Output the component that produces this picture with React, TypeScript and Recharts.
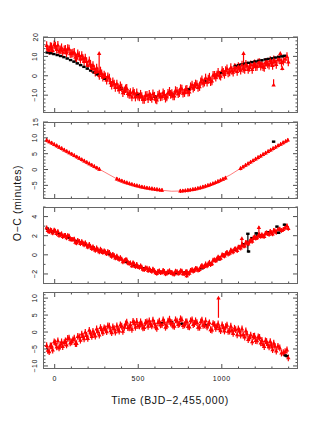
import { ScatterChart, Scatter, XAxis, YAxis, ErrorBar } from "recharts";

const W = 327;
const H = 423;
const PLOT_L = 43;
const PLOT_R = 298;
const MT = 4;
const RED = "#ff0000";
const FONT = '"Liberation Sans", Arial, Helvetica, sans-serif';

// transit epochs (BJD-2,455,000), two interleaved sets
const epochsA = [
  -48, -33, -19, -3, 12, 26, 41, 57, 71, 86, 102, 117,
  131, 147, 162, 176, 191, 207, 222, 236, 251, 267, 281, 296,
  311, 327, 341, 356, 372, 386, 401, 417, 431, 446, 462, 476,
  491, 507, 521, 536, 552, 566, 581, 597, 611, 626, 642, 656,
  671, 687, 701, 716, 732, 746, 761, 777, 791, 806, 822, 836,
  851, 867, 881, 896, 912, 926, 941, 957, 971, 986, 1002, 1016,
  1031, 1047, 1061, 1076, 1092, 1106, 1121, 1137, 1151, 1166, 1182, 1196,
  1211, 1226, 1240, 1254, 1268, 1283, 1297, 1311, 1326, 1347, 1368, 1390,
];
const epochsB = [
  -41, -26, -12, 4, 19, 33, 48, 64, 78, 93, 109, 124,
  138, 154, 169, 183, 198, 214, 229, 243, 258, 274, 288, 303,
  318, 334, 348, 363, 379, 393, 408, 424, 438, 453, 469, 483,
  498, 514, 528, 543, 559, 573, 588, 604, 618, 633, 649, 663,
  678, 694, 708, 723, 739, 753, 768, 784, 798, 813, 829, 843,
  858, 874, 888, 903, 919, 933, 948, 964, 978, 993, 1009, 1023,
  1038, 1054, 1068, 1083, 1099, 1113, 1128, 1144, 1158, 1173, 1189, 1203,
  1218, 1233, 1247, 1261, 1275, 1290, 1304, 1318, 1336, 1357, 1379, 1398,
];

// panel 1
const ocRed1A = [
  15.6, 13.0, 14.9, 16.0, 13.5, 12.6, 14.5, 13.4, 11.7, 13.8, 11.5, 12.1,
  9.0, 10.5, 10.5, 7.4, 7.3, 7.8, 3.8, 3.5, 4.0, 0.1, 1.1, 0.4,
  -2.3, -1.2, -4.9, -4.2, -4.2, -7.1, -6.3, -7.7, -6.5, -9.6, -10.9, -9.0,
  -8.8, -10.9, -10.7, -12.2, -10.1, -9.6, -11.7, -10.5, -12.5, -9.4, -10.7, -9.6,
  -11.0, -8.0, -9.1, -10.4, -8.0, -8.8, -6.8, -8.7, -7.0, -8.4, -4.8, -5.6,
  -4.5, -5.6, -2.1, -3.3, -3.3, -0.7, -2.7, 0.3, 0.4, 0.3, 2.7, 0.7,
  3.6, 1.9, 2.7, 4.2, 2.2, 4.2, 5.6, 3.2, 5.0, 4.3, 3.3, 6.2,
  4.8, 6.8, 6.1, 4.3, 7.0, 5.5, 6.8, 8.2, 5.8, 8.2, 7.5, 9.9,
];
const ocRed1B = [
  13.7, 15.1, 13.0, 15.4, 15.7, 13.4, 12.1, 13.7, 14.0, 11.4, 11.8, 9.5,
  11.3, 8.5, 8.9, 9.2, 5.3, 6.0, 5.3, 1.8, 2.1, 2.5, -0.8, -0.5,
  -0.5, -3.6, -3.1, -6.1, -6.0, -5.1, -8.8, -6.7, -9.1, -8.6, -8.1, -11.0,
  -10.6, -9.5, -12.2, -10.2, -11.9, -10.8, -9.3, -12.1, -10.1, -10.9, -8.8, -11.6,
  -9.0, -9.6, -10.4, -7.6, -9.3, -6.6, -9.0, -7.2, -8.5, -5.6, -6.4, -4.2,
  -6.1, -3.1, -3.8, -1.1, -1.7, -3.1, 0.3, -0.8, 1.8, -0.2, 1.8, 2.7,
  1.5, 4.2, 1.8, 4.0, 4.8, 2.8, 3.8, 6.0, 3.2, 5.7, 5.7, 4.7,
  6.7, 4.9, 4.7, 6.9, 6.1, 7.9, 5.3, 7.3, 8.4, 6.8, 8.6, 7.1,
];
const blackT1 = [
  -45, -25, -5, 15, 35, 55, 75, 95, 115, 135, 155, 175, 195, 215, 235, 255,
  300, 400, 500, 600, 700, 800, 900, 1000,
  1080, 1100, 1120, 1140, 1160, 1180, 1200, 1220, 1240, 1260, 1280, 1300, 1320, 1340, 1360, 1375,
];
const ocBlack1 = [
  12.0, 11.6, 11.2, 10.7, 10.2, 9.6, 8.9, 8.1, 7.3, 6.4, 5.5, 4.6, 3.7, 2.7, 1.7, 0.7,
  -1.5, -6.5, -9.8, -10.8, -9.5, -7.0, -3.0, 1.5,
  5.0, 5.5, 5.9, 6.3, 6.7, 7.0, 7.4, 7.7, 8.0, 8.4, 8.7, 9.0, 9.4, 9.7, 10.0, 10.3,
];
const outT1 = [266, 1130, 1350, 1310, 1362];
const outV1 = [11.5, 11.5, 11.5, -4.8, 3.8];
const outE1 = [[12.5, 0], [7.5, 0], [2, 0.3], [0.3, 3], [1, 1]];

// panel 2
const t2 = [
  -48, -33, -18, -3, 12, 27, 42, 57, 72, 87, 102, 117, 132, 147, 162, 177, 192, 207, 222, 237, 252, 267,
  372, 387, 402, 417, 432, 447, 462, 477, 492, 507, 522, 537, 552, 567, 582, 597, 612, 627, 642,
  752, 767, 782, 797, 812, 827, 842, 857, 872, 887, 902, 917, 932, 947, 962, 977, 992, 1007, 1022,
  1112, 1127, 1142, 1157, 1172, 1187, 1202, 1217, 1232, 1247, 1262, 1277, 1292, 1307, 1322, 1337, 1352, 1367, 1382, 1395,
];
const ocRed2 = [
  9.24, 8.8, 8.37, 7.93, 7.5, 7.06, 6.63, 6.19, 5.76, 5.32, 4.89, 4.45, 4.02, 3.58, 3.15, 2.71, 2.28, 1.84, 1.41, 0.97, 0.54, 0.1,
  -2.95, -3.28, -3.6, -3.9, -4.18, -4.43, -4.67, -4.9, -5.1, -5.3, -5.48, -5.64, -5.79, -5.93, -6.06, -6.18, -6.3, -6.41, -6.51,
  -6.78, -6.72, -6.64, -6.54, -6.42, -6.28, -6.12, -5.94, -5.74, -5.52, -5.28, -5.02, -4.74, -4.44, -4.12, -3.78, -3.42, -3.04, -2.64,
  0.36, 0.86, 1.36, 1.86, 2.35, 2.84, 3.32, 3.8, 4.28, 4.76, 5.23, 5.7, 6.17, 6.63, 7.09, 7.55, 8.0, 8.45, 8.9, 9.3,
];
const modelT2 = [-50, 100, 200, 270, 300, 370, 450, 550, 650, 700, 750, 850, 950, 1050, 1110, 1200, 1300, 1400];
const model2 = [9.3, 4.95, 2.05, 0.02, -0.85, -2.9, -4.48, -5.77, -6.58, -6.85, -6.78, -6.03, -4.38, -1.7, 0.3, 3.26, 6.43, 9.4];
const blackT2 = [1310];
const ocBlack2 = [8.8];

// panel 3
const ocRed3A = [
  2.82, 2.42, 2.54, 2.58, 2.22, 2.04, 2.2, 2.02, 1.78, 1.96, 1.61, 1.63,
  1.25, 1.41, 1.39, 1.05, 1.05, 1.08, 0.66, 0.64, 0.72, 0.32, 0.44, 0.4,
  0.12, 0.26, -0.16, -0.08, -0.13, -0.47, -0.44, -0.62, -0.52, -0.9, -1.13, -0.97,
  -1.01, -1.31, -1.3, -1.54, -1.4, -1.44, -1.73, -1.66, -1.95, -1.68, -1.84, -1.74,
  -1.92, -1.67, -1.83, -2.01, -1.77, -1.89, -1.71, -1.95, -1.76, -1.93, -1.54, -1.6,
  -1.44, -1.54, -1.12, -1.22, -1.15, -0.78, -0.93, -0.52, -0.43, -0.36, -0.01, -0.12,
  0.26, 0.17, 0.38, 0.6, 0.44, 0.79, 1.08, 0.93, 1.26, 1.36, 1.42, 1.87,
  1.79, 2.09, 2.09, 1.92, 2.3, 2.15, 2.32, 2.56, 2.36, 2.68, 2.66, 3.03,
];
const ocRed3B = [
  2.55, 2.61, 2.29, 2.47, 2.43, 2.11, 1.91, 2.03, 2.01, 1.64, 1.62, 1.32,
  1.5, 1.18, 1.22, 1.26, 0.82, 0.89, 0.83, 0.47, 0.53, 0.59, 0.25, 0.31,
  0.33, -0.01, 0.05, -0.32, -0.34, -0.29, -0.73, -0.53, -0.83, -0.84, -0.84, -1.22,
  -1.24, -1.16, -1.51, -1.37, -1.65, -1.61, -1.5, -1.87, -1.72, -1.86, -1.64, -1.98,
  -1.75, -1.87, -1.99, -1.71, -1.93, -1.67, -1.97, -1.79, -1.94, -1.63, -1.71, -1.43,
  -1.61, -1.25, -1.29, -0.95, -0.94, -1.01, -0.56, -0.61, -0.24, -0.37, -0.06, 0.13,
  0.08, 0.49, 0.31, 0.61, 0.8, 0.71, 0.94, 1.31, 1.14, 1.6, 1.76, 1.74,
  2.04, 1.92, 1.96, 2.25, 2.21, 2.44, 2.19, 2.49, 2.67, 2.55, 2.84, 2.76,
];
const blackT3 = [
  -45, -10, 30, 80, 130, 180, 230, 280, 330, 380, 430, 480, 530, 580, 630,
  680, 730, 780, 830, 880, 930, 980, 1030, 1080, 1130, 1180, 1230, 1280, 1330, 1375,
];
const ocBlack3 = [
  2.75, 2.45, 2.15, 1.8, 1.45, 1.1, 0.75, 0.4, 0.05, -0.35, -0.75, -1.1, -1.4, -1.65, -1.8,
  -1.85, -1.9, -1.85, -1.65, -1.4, -0.95, -0.45, 0.15, 0.55, 1.1, 1.75, 2.05, 2.35, 2.95, 3.15,
];
const outBlackT3 = [1156, 1160, 1206, 1340];
const outBlackV3 = [2.2, 0.35, 2.25, 2.3];
const outBlackE3 = [[1.85, 0], [0.1, 0.1], [0.3, 0.1], [0.1, 0.1]];
const outT3 = [1120, 1222, 790];
const outV3 = [1.7, 2.85, -2.2];
const outE3 = [[0.9, 0], [0.9, 0.15], [0.2, 0.2]];

// panel 4
const ocRed4A = [
  -4.0, -5.8, -4.1, -2.9, -4.4, -4.7, -2.9, -3.1, -3.8, -1.8, -2.9, -1.8,
  -3.4, -1.4, -0.6, -2.0, -1.0, 0.5, -1.3, -0.6, 0.9, -0.9, 0.7, 1.2,
  0.1, 1.7, -0.2, 1.0, 1.8, 0.3, 1.7, 1.4, 2.9, 1.2, 0.8, 2.6,
  3.1, 1.8, 2.3, 1.3, 3.0, 3.3, 1.8, 2.6, 1.1, 3.2, 2.2, 2.9,
  1.8, 3.8, 2.8, 1.7, 3.2, 2.4, 3.6, 2.1, 3.0, 1.5, 3.6, 2.5,
  2.8, 1.4, 3.5, 2.1, 1.5, 2.7, 0.6, 2.2, 1.6, 1.0, 2.1, 0.3,
  2.0, 0.3, 0.5, 1.1, -0.8, 0.3, 0.9, -1.5, -0.6, -1.7, -2.9, -1.2,
  -2.6, -1.6, -2.5, -4.3, -2.8, -4.4, -3.9, -3.3, -5.6, -4.7, -6.1, -5.3,
];
const ocRed4B = [
  -5.4, -4.1, -5.3, -3.2, -2.6, -3.9, -4.3, -2.6, -1.9, -3.2, -2.3, -3.4,
  -1.3, -2.4, -1.3, -0.1, -1.9, -0.3, 0.2, -1.2, 0.1, 1.3, -0.2, 0.9,
  1.8, 0.4, 1.5, 0.0, 0.8, 2.1, 0.2, 2.4, 1.3, 2.2, 3.1, 1.4,
  1.9, 3.0, 1.2, 2.8, 1.7, 2.4, 3.5, 1.5, 2.8, 2.1, 3.6, 1.4,
  3.2, 2.6, 1.8, 3.6, 2.2, 3.9, 1.9, 3.0, 1.6, 3.3, 2.2, 3.3,
  1.4, 3.0, 2.0, 3.3, 2.3, 0.7, 2.5, 1.1, 2.4, 0.4, 1.3, 1.6,
  0.2, 1.7, -0.4, 0.7, 0.9, -0.9, -0.8, 0.3, -2.2, -0.9, -1.3, -2.5,
  -1.4, -3.2, -3.7, -2.6, -3.7, -2.8, -5.2, -4.2, -4.2, -6.2, -5.8, -7.6,
];
const blackT4 = [640, 700, 760, 900, 1380, 1390];
const ocBlack4 = [2.6, 2.9, 2.4, 2.0, -6.9, -7.1];
const outT4 = [980];
const outV4 = [10];
const outE4 = [[5.8, 0]];

// axes
const xTicks = [0, 100, 200, 300, 400, 500, 600, 700, 800, 900, 1000, 1100, 1200, 1300, 1400];
const xLabels = [0, 500, 1000];
const yTicks1 = [-18, -16, -14, -12, -10, -8, -6, -4, -2, 0, 2, 4, 6, 8, 10, 12, 14, 16, 18, 20];
const yLabels1 = [-10, 0, 10, 20];
const yTicks2 = [-9, -8, -7, -6, -5, -4, -3, -2, -1, 0, 1, 2, 3, 4, 5, 6, 7, 8, 9, 10, 11, 12, 13, 14, 15];
const yLabels2 = [-5, 0, 5, 10, 15];
const yTicks3 = [-3, -2, -1, 0, 1, 2, 3, 4, 5];
const yLabels3 = [-2, 0, 2, 4];
const yTicks4 = [-10, -9, -8, -7, -6, -5, -4, -3, -2, -1, 0, 1, 2, 3, 4, 5, 6, 7, 8, 9, 10, 11];
const yLabels4 = [-10, -5, 0, 5, 10];

type Pt = { t: number; v: number; e: number | number[] };

const pts = (ts: number[], vs: number[], e: number | number[][]): Pt[] =>
  ts.map((t, i) => ({ t, v: vs[i], e: Array.isArray(e) ? e[i] : e }));

const fmt = (v: number) => (v < 0 ? "\u2212" + Math.abs(v) : String(v));

const Tri = (p: any) =>
  p.cx == null ? (
    <g />
  ) : (
    <path
      d={`M${p.cx},${p.cy - 2.4}L${p.cx + 2.2},${p.cy + 1.5}L${p.cx - 2.2},${p.cy + 1.5}Z`}
      fill={RED}
    />
  );

const Dot = (p: any) =>
  p.cx == null ? <g /> : <rect x={p.cx - 1.7} y={p.cy - 1.2} width={3.4} height={2.4} fill="#000" />;

const Nothing = () => <g />;

interface SeriesDef {
  data: Pt[];
  kind: "red" | "black" | "line";
}

interface PanelProps {
  top: number;
  h: number;
  domain: [number, number];
  yTicks: number[];
  yLabels: number[];
  series: SeriesDef[];
  showX?: boolean;
}

function Panel({ top, h, domain, yTicks, yLabels, series, showX }: PanelProps) {
  const yTick = (p: any) => {
    const y = p.y;
    const val = p.payload.value;
    const major = yLabels.includes(val);
    const len = major ? 5 : 2.5;
    return (
      <g>
        <line x1={PLOT_L} x2={PLOT_L + len} y1={y} y2={y} stroke="#222" strokeWidth={0.8} />
        <line x1={PLOT_R - len} x2={PLOT_R} y1={y} y2={y} stroke="#222" strokeWidth={0.8} />
        {major && (
          <text
            x={35}
            y={y}
            transform={`rotate(-90 35 ${y})`}
            textAnchor="middle"
            dominantBaseline="central"
            fontSize={7}
            letterSpacing={0.6}
            fill="#111"
            fontFamily={FONT}
          >
            {fmt(val)}
          </text>
        )}
      </g>
    );
  };

  const xTick = (p: any) => {
    const x = p.x;
    const val = p.payload.value;
    const major = xLabels.includes(val);
    const len = major ? 5 : 2.5;
    const bottom = MT + h;
    return (
      <g>
        <line x1={x} x2={x} y1={bottom} y2={bottom - len} stroke="#222" strokeWidth={0.8} />
        <line x1={x} x2={x} y1={MT} y2={MT + len} stroke="#222" strokeWidth={0.8} />
        {showX && major && (
          <text
            x={x}
            y={bottom + 9}
            textAnchor="middle"
            dominantBaseline="central"
            fontSize={7}
            letterSpacing={0.6}
            fill="#111"
            fontFamily={FONT}
          >
            {fmt(val)}
          </text>
        )}
      </g>
    );
  };

  return (
    <>
      <div style={{ position: "absolute", left: 0, top: top - MT }}>
        <ScatterChart
          width={W}
          height={MT + h + 25}
          margin={{ top: MT, right: W - PLOT_R, bottom: 0, left: 0 }}
        >
          <XAxis
            type="number"
            dataKey="t"
            domain={[-70, 1456]}
            allowDataOverflow
            ticks={xTicks}
            interval={0}
            axisLine={false}
            tickLine={false}
            tick={xTick}
            height={25}
          />
          <YAxis
            type="number"
            dataKey="v"
            domain={domain}
            allowDataOverflow
            ticks={yTicks}
            interval={0}
            axisLine={false}
            tickLine={false}
            tick={yTick}
            width={PLOT_L}
          />
          {series.map((s, i) =>
            s.kind === "line" ? (
              <Scatter
                key={i}
                data={s.data}
                line={{ stroke: "#ff5a5a", strokeWidth: 0.8 }}
                shape={Nothing}
                isAnimationActive={false}
              />
            ) : (
              <Scatter
                key={i}
                data={s.data}
                shape={s.kind === "red" ? Tri : Dot}
                isAnimationActive={false}
              >
                <ErrorBar
                  dataKey="e"
                  direction="y"
                  width={0}
                  stroke={s.kind === "red" ? RED : "#000"}
                  strokeWidth={1.2}
                />
              </Scatter>
            )
          )}
        </ScatterChart>
      </div>
      <div
        style={{
          position: "absolute",
          left: PLOT_L,
          top,
          width: PLOT_R - PLOT_L,
          height: h,
          border: "1px solid #666",
          boxSizing: "border-box",
          pointerEvents: "none",
        }}
      />
    </>
  );
}

export default function App() {
  return (
    <div style={{ position: "absolute", left: 0, top: 0, width: W, height: H, background: "#fff", fontFamily: FONT }}>
      <style>{"body{margin:0}"}</style>
      <svg width={W} height={H} style={{ position: "absolute", left: 0, top: 0 }}>
        <text
          x={17}
          y={203}
          transform="rotate(-90 17 203)"
          textAnchor="middle"
          dominantBaseline="central"
          fontSize={10.5}
          letterSpacing={0.6}
          fill="#111"
          fontFamily={FONT}
        >
          O{"\u2212"}C (minutes)
        </text>
        <text
          x={170}
          y={400}
          textAnchor="middle"
          dominantBaseline="central"
          fontSize={10.5}
          letterSpacing={0.6}
          fill="#111"
          fontFamily={FONT}
        >
          Time (BJD{"\u2212"}2,455,000)
        </text>
      </svg>
      <Panel
        top={37}
        h={76}
        domain={[-19.2, 20]}
        yTicks={yTicks1}
        yLabels={yLabels1}
        series={[
          { data: pts(blackT1, ocBlack1, 0.4), kind: "black" },
          { data: pts(epochsA, ocRed1A, 2.2), kind: "red" },
          { data: pts(epochsB, ocRed1B, 2.2), kind: "red" },
          { data: pts(outT1, outV1, outE1), kind: "red" },
        ]}
      />
      <Panel
        top={122}
        h={77}
        domain={[-9.3, 15]}
        yTicks={yTicks2}
        yLabels={yLabels2}
        series={[
          { data: pts(modelT2, model2, 0), kind: "line" },
          { data: pts(t2, ocRed2, 0.6), kind: "red" },
          { data: pts(blackT2, ocBlack2, 0.2), kind: "black" },
        ]}
      />
      <Panel
        top={207}
        h={77}
        domain={[-3.05, 5]}
        yTicks={yTicks3}
        yLabels={yLabels3}
        series={[
          { data: pts(blackT3, ocBlack3, 0.1), kind: "black" },
          { data: pts(epochsA, ocRed3A, 0.25), kind: "red" },
          { data: pts(epochsB, ocRed3B, 0.25), kind: "red" },
          { data: pts(outT3, outV3, outE3), kind: "red" },
          { data: pts(outBlackT3, outBlackV3, outBlackE3), kind: "black" },
        ]}
      />
      <Panel
        top={292}
        h={77}
        domain={[-10.9, 11.8]}
        yTicks={yTicks4}
        yLabels={yLabels4}
        showX
        series={[
          { data: pts(blackT4, ocBlack4, 0.3), kind: "black" },
          { data: pts(epochsA, ocRed4A, 1.0), kind: "red" },
          { data: pts(epochsB, ocRed4B, 1.0), kind: "red" },
          { data: pts(outT4, outV4, outE4), kind: "red" },
        ]}
      />
    </div>
  );
}
